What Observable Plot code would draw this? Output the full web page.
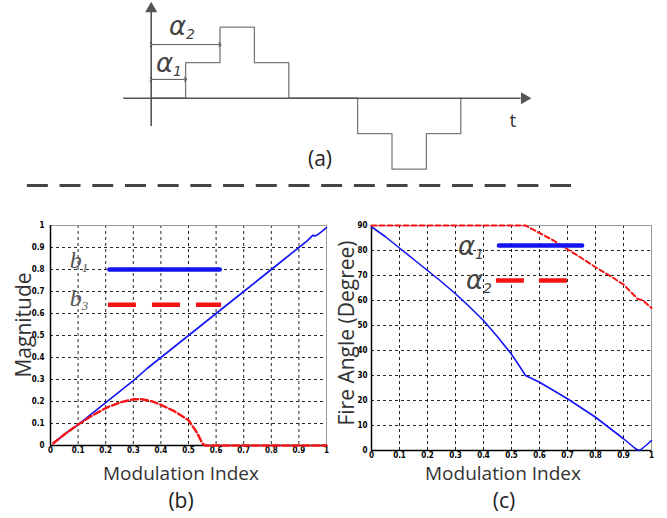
<!DOCTYPE html>
<html><head><meta charset="utf-8">
<script src="https://cdn.jsdelivr.net/npm/d3@7"></script>
<script src="https://cdn.jsdelivr.net/npm/@observablehq/plot@0.6"></script>
<style>
body{margin:0;background:#fff;}
#wrap{position:relative;width:667px;height:518px;overflow:hidden;background:#fff;font-family:"Open Sans",sans-serif;color:#333;}
.p{position:absolute;}
.lbl{position:absolute;transform:translate(-50%,-50%);white-space:nowrap;line-height:1;}
.rot{transform:translate(-50%,-50%) rotate(-90deg);font-size:21px !important;}
.ttl{font-size:19px;color:#333;}
.pan{font-size:21px;color:#222;}
.bl{font-family:"Liberation Serif",serif;font-style:italic;font-size:24px;color:#555;}
.bl sub{font-size:13px;vertical-align:-0.25em;}
.al{font-family:"DejaVu Sans",sans-serif;font-style:italic;font-size:26px;color:#444;}
.al sub{font-size:14px;vertical-align:-0.3em;}
</style></head><body><div id="wrap"></div>
<script>
// ---- data ----
const waveT = [0, 1, 2, 3, 4, 6, 7, 8, 9];
const waveLevel = [0, 1, 2, 1, 0, -1, -2, -1, 0];

const xTicks = [0, 0.1, 0.2, 0.3, 0.4, 0.5, 0.6, 0.7, 0.8, 0.9, 1];
const magTicks = [0, 0.1, 0.2, 0.3, 0.4, 0.5, 0.6, 0.7, 0.8, 0.9, 1];
const angleTicks = [0, 10, 20, 30, 40, 50, 60, 70, 80, 90];

const modB1 = [0.01, 0.05, 0.1, 0.15, 0.2, 0.25, 0.3, 0.35, 0.4, 0.45, 0.5, 0.55, 0.6, 0.65, 0.7, 0.75, 0.8, 0.85, 0.9, 0.93, 0.95, 0.96, 0.97, 1.0];
const b1 = [0.01, 0.05, 0.095, 0.145, 0.195, 0.245, 0.295, 0.35, 0.4, 0.45, 0.5, 0.55, 0.6, 0.65, 0.7, 0.75, 0.8, 0.85, 0.9, 0.93, 0.955, 0.953, 0.96, 0.99];

const modB3 = [0.01, 0.05, 0.1, 0.15, 0.2, 0.25, 0.3, 0.33, 0.37, 0.4, 0.45, 0.5, 0.53, 0.55, 0.56, 0.6, 0.7, 0.8, 0.9, 1.0];
const b3 = [0.01, 0.05, 0.095, 0.135, 0.17, 0.195, 0.21, 0.21, 0.2, 0.185, 0.155, 0.115, 0.06, 0.01, 0, 0, 0, 0, 0, 0];

const modA1 = [0, 0.05, 0.1, 0.15, 0.2, 0.25, 0.3, 0.35, 0.4, 0.45, 0.5, 0.53, 0.55, 0.6, 0.65, 0.7, 0.75, 0.8, 0.85, 0.9, 0.94, 0.95, 0.96, 0.98, 1.0];
const alpha1 = [89.5, 85.5, 81, 76.5, 72, 67.5, 62.7, 57.5, 52, 45.5, 38.5, 33.5, 30, 27.3, 24, 20.7, 17, 13.3, 9, 4.7, 1, 0.2, 0.2, 2, 4];

const modA2 = [0, 0.55, 0.6, 0.65, 0.7, 0.75, 0.8, 0.85, 0.9, 0.95, 0.97, 1.0];
const alpha2 = [90, 90, 87, 84, 80.5, 77, 73.3, 70, 66.4, 60.7, 60, 57];

// ---- build ----
const wrap = document.getElementById("wrap");
const zip = (xs, ys) => xs.map((x, i) => ({x, y: ys[i]}));
const fmt = d => String(+d.toFixed(1));
const BLUE = "#1414f5", RED = "#f51414";

function place(node, left, top) {
  node.classList.add("p");
  node.style.left = left + "px";
  node.style.top = top + "px";
  wrap.appendChild(node);
}
function label(html, cx, cy, cls) {
  const d = document.createElement("div");
  d.className = "lbl " + cls;
  d.innerHTML = html;
  d.style.left = cx + "px";
  d.style.top = cy + "px";
  wrap.appendChild(d);
}

// Panel (a): stepped waveform
const pa = Plot.plot({
  width: 667, height: 200, margin: 0,
  style: {background: "transparent"},
  x: {type: "linear", domain: [0, 9], range: [150.7, 460.3], axis: null},
  y: {type: "linear", domain: [0, 2], range: [97.7, 26.7], axis: null},
  marks: [
    Plot.line(zip(waveT, waveLevel), {x: "x", y: "y", curve: "step-after", stroke: "#7a7a7a", strokeWidth: 1.3}),
    Plot.ruleY([0], {x1: -0.8, x2: 10.75, stroke: "#555", strokeWidth: 1.6}),
    Plot.dot([{x: 10.85, y: 0}], {x: "x", y: "y", symbol: "triangle", r: 4.5, fill: "#555", stroke: "none", rotate: 90}),
    Plot.ruleX([0], {y1: -0.8, y2: 2.45, stroke: "#555", strokeWidth: 1.6}),
    Plot.dot([{x: 0, y: 2.52}], {x: "x", y: "y", symbol: "triangle", r: 4.5, fill: "#555", stroke: "none"}),
    Plot.link([{a: 0, b: 1, y: 0.53}, {a: 0, b: 2, y: 1.51}], {x1: "a", x2: "b", y1: "y", y2: "y", stroke: "#555", strokeWidth: 1, marker: "arrow"}),
    Plot.ruleY([-2.46], {x1: -3.6, x2: 12.25, stroke: "#444", strokeWidth: 3, strokeDasharray: "21,11.7"})
  ]
});
place(pa, 0, 0);

const tickStyle = {fontFamily: "'DejaVu Sans Condensed','DejaVu Sans',sans-serif", fontSize: "8px", fontWeight: "bold", color: "#000", background: "transparent"};
const inner = t => t.filter(v => v > t[0] && v < t[t.length - 1]);

// Panel (b)
const pb = Plot.plot({
  width: 340, height: 250, marginLeft: 50, marginRight: 14, marginTop: 15, marginBottom: 15,
  style: tickStyle,
  x: {domain: [0, 1]},
  y: {domain: [0, 1]},
  marks: [
    Plot.gridX(inner(xTicks), {stroke: "#000", strokeOpacity: 0.85, strokeDasharray: "3,3"}),
    Plot.gridY(inner(magTicks), {stroke: "#000", strokeOpacity: 0.85, strokeDasharray: "3,3"}),
    Plot.frame({stroke: "#999"}),
    Plot.axisX(xTicks, {tickSize: 0, tickPadding: 2, tickFormat: fmt, label: null}),
    Plot.axisY(magTicks, {tickSize: 0, tickPadding: 6, tickFormat: fmt, label: null}),
    Plot.ruleY([0], {stroke: "#000", strokeWidth: 1.5}),
    Plot.ruleX([0], {stroke: "#000", strokeWidth: 1.5}),
    Plot.line(zip(modB1, b1), {x: "x", y: "y", stroke: BLUE, strokeWidth: 1.6}),
    Plot.line(zip(modB3, b3), {x: "x", y: "y", stroke: RED, strokeWidth: 2.4, strokeDasharray: "7,3"}),
    Plot.ruleY([0.8], {x1: 0.215, x2: 0.615, stroke: BLUE, strokeWidth: 4.5, strokeLinecap: "round"}),
    Plot.ruleY([0.64], {x1: 0.21, x2: 0.62, stroke: RED, strokeWidth: 4.5, strokeDasharray: "28,16"})
  ]
});
place(pb, 0, 210);

// Panel (c)
const pc = Plot.plot({
  width: 337, height: 255, marginLeft: 41, marginRight: 16, marginTop: 15, marginBottom: 15,
  style: tickStyle,
  x: {domain: [0, 1]},
  y: {domain: [0, 90]},
  marks: [
    Plot.gridX(inner(xTicks), {stroke: "#000", strokeOpacity: 0.85, strokeDasharray: "3,3"}),
    Plot.gridY(inner(angleTicks), {stroke: "#000", strokeOpacity: 0.85, strokeDasharray: "3,3"}),
    Plot.frame({stroke: "#999"}),
    Plot.axisX(xTicks, {tickSize: 0, tickPadding: 2, tickFormat: fmt, label: null}),
    Plot.axisY(angleTicks, {tickSize: 0, tickPadding: 4, tickFormat: fmt, label: null}),
    Plot.ruleY([0], {stroke: "#000", strokeWidth: 1.5}),
    Plot.ruleX([0], {stroke: "#000", strokeWidth: 1.5}),
    Plot.line(zip(modA1, alpha1), {x: "x", y: "y", stroke: BLUE, strokeWidth: 1.6}),
    Plot.line(zip(modA2, alpha2), {x: "x", y: "y", stroke: RED, strokeWidth: 2, strokeDasharray: "5,3"}),
    Plot.ruleY([82], {x1: 0.457, x2: 0.754, stroke: BLUE, strokeWidth: 4.5, strokeLinecap: "round"}),
    Plot.ruleY([68], {x1: 0.446, x2: 0.703, stroke: RED, strokeWidth: 4.5, strokeDasharray: "28,15"})
  ]
});
place(pc, 330, 210);

// ---- text ----
label("t", 513, 120, "ttl");
label("(a)", 320, 158, "pan");
label("α<sub>2</sub>", 182, 27, "al");
label("α<sub>1</sub>", 169, 64, "al");

label("Magnitude", 23, 325, "ttl rot");
label("Modulation Index", 181, 473, "ttl");
label("(b)", 181, 500, "pan");
label("b<sub>1</sub>", 79, 261, "bl");
label("b<sub>3</sub>", 79, 299, "bl");

label("Fire Angle (Degree)", 346, 333, "ttl rot");
label("Modulation Index", 503, 473, "ttl");
label("(c)", 504, 500, "pan");
label("α<sub>1</sub>", 471, 247, "al");
label("α<sub>2</sub>", 479, 281, "al");
</script></body></html>
